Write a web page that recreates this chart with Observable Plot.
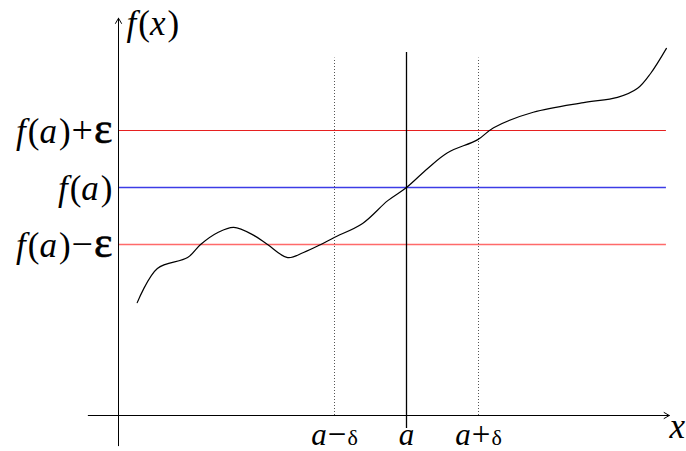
<!DOCTYPE html>
<html><head><meta charset="utf-8">
<script src="https://cdn.jsdelivr.net/npm/d3@7"></script>
<script src="https://cdn.jsdelivr.net/npm/@observablehq/plot@0.6"></script>
<style>body{margin:0;background:#fff} svg text, svg tspan{font-family:"Liberation Serif","Times New Roman",serif;}</style>
</head><body><div id="chart"></div>
<script>
// curve samples (abstract units: x axis origin at 0, a = 4; y axis origin at 0, f(a) = 4)
const curveX = [0.26,0.54,0.96,1.14,1.38,1.60,1.88,2.07,2.35,2.57,2.81,2.99,3.39,3.74,4.00,4.29,4.57,4.99,5.21,5.76,6.46,6.93,7.21,7.39,7.61];
const curveY = [1.98,2.58,2.77,3.00,3.21,3.30,3.16,3.00,2.77,2.86,3.00,3.12,3.37,3.77,4.00,4.33,4.61,4.84,5.05,5.32,5.49,5.58,5.74,6.00,6.44];
const a = 4, delta = 1, fa = 4, eps = 1;
const levelLabels = ["f(a)+ε", "f(a)", "f(a)−ε"];
const levelValues = [fa + eps, fa, fa - eps];
const levelColors = ["#e62020", "#3c3ce6", "#ff6a6a"];
const levelWidths = [1.1, 1.3, 1.6];
const xTickLabels = ["a−δ", "a", "a+δ"];
const xTickValues = [a - delta, a, a + delta];
const axisLabels = ["f(x)", "x"];

const curve = curveX.map((x, i) => ({x, y: curveY[i]}));
const levels = levelValues.map((v, i) => ({v, label: levelLabels[i]}));
const ticks = xTickValues.map((v, i) => ({v, label: xTickLabels[i]}));
const xEnd = 7.61;

const chart = Plot.plot({
  width: 686, height: 451,
  x: {domain: [0, 4], range: [118, 406], axis: null},
  y: {domain: [0, 4], range: [415, 187], axis: null},
  style: {background: "#fff", overflow: "visible"},
  marks: [
    ...levels.map((d, i) => Plot.ruleY([d], {y: "v", x1: 0, x2: xEnd, stroke: levelColors[i], strokeWidth: levelWidths[i]})),
    Plot.ruleX([ticks[0], ticks[2]], {x: "v", y1: 0, y2: 6.27, stroke: "#555", strokeWidth: 1, strokeDasharray: "1,2"}),
    Plot.ruleX([ticks[1]], {x: "v", y1: -0.23, y2: 6.37, stroke: "#000", strokeWidth: 1.3}),
    Plot.arrow([{x1: -0.42, y1: 0, x2: 7.65, y2: 0}, {x1: 0, y1: -0.53, x2: 0, y2: 6.97}],
      {x1: "x1", y1: "y1", x2: "x2", y2: "y2", stroke: "#000", strokeWidth: 1, headLength: 9}),
    Plot.line(curve, {x: "x", y: "y", curve: "catmull-rom", stroke: "#000", strokeWidth: 1.2}),
    Plot.text(levels, {x: 0, y: "v", text: "label", textAnchor: "end", dx: -6, dy: 1, fill: "#000"}),
    Plot.text(ticks, {x: "v", y: 0, text: "label", dy: 20, fill: "#000", className: "small"}),
    Plot.text([axisLabels[0]], {x: 0, y: 6.87, text: d => d, textAnchor: "start", dx: 8, fill: "#000"}),
    Plot.text([axisLabels[1]], {x: 7.76, y: -0.2, text: d => d, fill: "#000"})
  ]
});
document.getElementById("chart").appendChild(chart);

// rich text: italic Latin letters, smaller delta, larger epsilon
const FONT = "'Liberation Serif','Times New Roman',serif";
d3.select(chart).selectAll("text").each(function() {
  const el = d3.select(this);
  const s = this.textContent;
  if (!s) return;
  const small = this.closest(".small") !== null;
  const base = small ? 31 : 35;
  el.text(null).style("font-family", FONT).style("font-size", base + "px");
  for (const ch of s) {
    const t = el.append("tspan").text(ch).style("font-family", FONT).style("font-size", base + "px");
    if (/[a-z]/.test(ch)) t.style("font-style", "italic");
    if (ch === "(" || ch === ")") t.attr("dx", 2);
    if (ch === "δ") t.style("font-size", "22px").attr("dx", 1);
    if (ch === "ε") t.style("font-size", "44px").attr("dx", 1).attr("stroke", "#000").attr("stroke-width", 0.6);
    if (ch === "+" || ch === "−") t.style("font-size", (small ? 33 : 38) + "px").attr("dx", 1);
  }
});
</script></body></html>
